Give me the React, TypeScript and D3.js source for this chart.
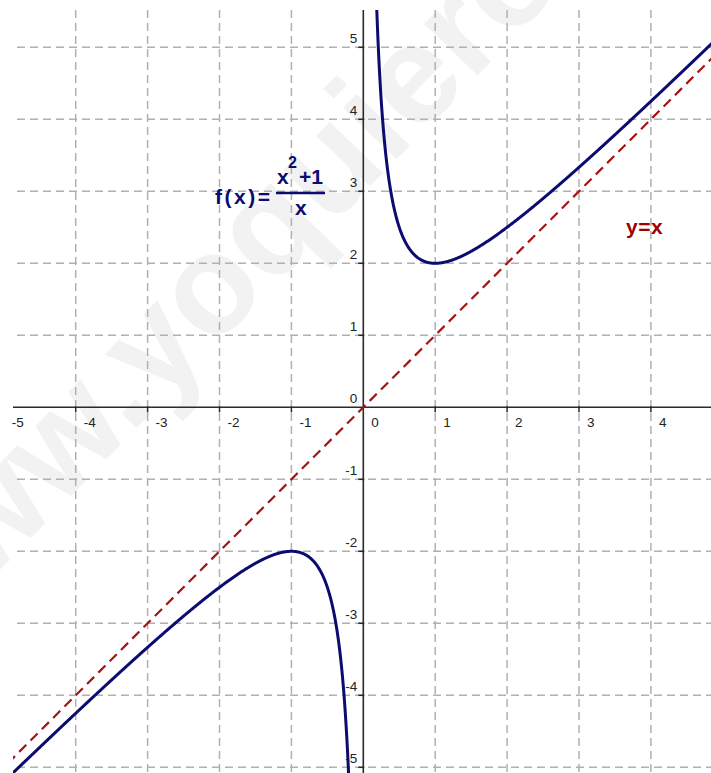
import React from 'react'
import * as d3 from 'd3'

// window onto the plane (pixels: 0..711 x 0..773)
const xDomain = [-5.053, 4.836]
const yDomain = [-5.079, 5.657]
const xTicks = [-5, -4, -3, -2, -1, 0, 1, 2, 3, 4]
const yTicks = [-5, -4, -3, -2, -1, 0, 1, 2, 3, 4, 5]

// the plotted function is the one written on the chart: f(x) = (x^2 + 1) / x
const f = (x: number) => (x * x + 1) / x
const leftBranchX = d3.range(-5.1, -0.18, 0.005)
const rightBranchX = d3.range(0.17, 4.9, 0.005)
const asymptoteX = [-5.1, 4.9]

const W = 711
const H = 773
const plot = { left: 13, top: 10 }
const font = "'Liberation Sans', Arial, sans-serif"

export default function App() {
  const x = d3.scaleLinear().domain(xDomain).range([0, W])
  const y = d3.scaleLinear().domain(yDomain).range([H, 0])

  const line = d3.line<number>()
    .x(d => x(d))
    .y(d => y(f(d)))
  const diag = d3.line<number>()
    .x(d => x(d))
    .y(d => y(d))

  const x0 = x(0)
  const y0 = y(0)

  return (
    <div style={{ position: 'absolute', left: 0, top: 0 }}>
      <svg width={W} height={H} style={{ display: 'block', background: '#fff' }}>
        <defs>
          <clipPath id="plot">
            <rect x={plot.left} y={plot.top} width={W - plot.left} height={H - plot.top} />
          </clipPath>
        </defs>

        {/* watermark */}
        <text
          transform="translate(-93,666) rotate(-46)"
          fontFamily={font}
          fontWeight="bold"
          fontSize={140}
          fill="#f2f2f2"
        >www.yoquieroaprobar.es</text>

        <g clipPath="url(#plot)">
          {/* grid */}
          {xTicks.filter(t => t !== 0).map(t => (
            <line key={'gx' + t} x1={x(t)} x2={x(t)} y1={plot.top} y2={H}
              stroke="#b0b0b0" strokeWidth={1.5} strokeDasharray="8,5" />
          ))}
          {yTicks.filter(t => t !== 0).map(t => (
            <line key={'gy' + t} x1={plot.left + 4} x2={W} y1={y(t)} y2={y(t)}
              stroke="#b0b0b0" strokeWidth={1.5} strokeDasharray="8,5" />
          ))}

          {/* axes */}
          <line x1={plot.left} x2={W} y1={y0} y2={y0} stroke="#2a2a2a" strokeWidth={1.6} />
          <line x1={x0} x2={x0} y1={plot.top} y2={H} stroke="#2a2a2a" strokeWidth={1.6} />
          {xTicks.filter(t => t !== 0).map(t => (
            <line key={'tx' + t} x1={x(t)} x2={x(t)} y1={y0 - 1} y2={y0 + 5}
              stroke="#2a2a2a" strokeWidth={1.5} />
          ))}
          {yTicks.filter(t => t !== 0).map(t => (
            <line key={'ty' + t} x1={x0 - 5} x2={x0 + 1} y1={y(t)} y2={y(t)}
              stroke="#2a2a2a" strokeWidth={1.5} />
          ))}

          {/* y = x */}
          <path d={diag(asymptoteX) || ''} fill="none" stroke="#a51414"
            strokeWidth={2.2} strokeDasharray="10,6" />
        </g>

        {/* tick labels */}
        {xTicks.map(t => (
          <text key={'lx' + t} x={x(t) + 8} y={y0 + 20} fontFamily={font} fontSize={13.5} fill="#222">
            {t}
          </text>
        ))}
        {yTicks.map(t => (
          <text key={'ly' + t} x={x0 - 6} y={y(t) - 4} textAnchor="end" fontFamily={font} fontSize={13.5} fill="#222">
            {t}
          </text>
        ))}

        {/* f(x) */}
        <g clipPath="url(#plot)">
          <path d={line(leftBranchX) || ''} fill="none" stroke="#0b0b70" strokeWidth={3} />
          <path d={line(rightBranchX) || ''} fill="none" stroke="#0b0b70" strokeWidth={3} />
        </g>

        {/* formula label */}
        <g fontFamily={font} fontWeight="bold" fill="#0b0b70">
          <text x={215} y={204} fontSize={21} letterSpacing={2.5}>f(x)=</text>
          <text x={277} y={184} fontSize={21}>x</text>
          <text x={288} y={168} fontSize={16}>2</text>
          <text x={299} y={184} fontSize={21}>+1</text>
          <line x1={276} x2={325} y1={193} y2={193} stroke="#0b0b70" strokeWidth={2.5} />
          <text x={295} y={215} fontSize={21}>x</text>
        </g>
        <text x={626} y={234} fontFamily={font} fontWeight="bold" fontSize={21} fill="#a00000" letterSpacing={0.5}>
          y=x
        </text>
      </svg>
    </div>
  )
}
